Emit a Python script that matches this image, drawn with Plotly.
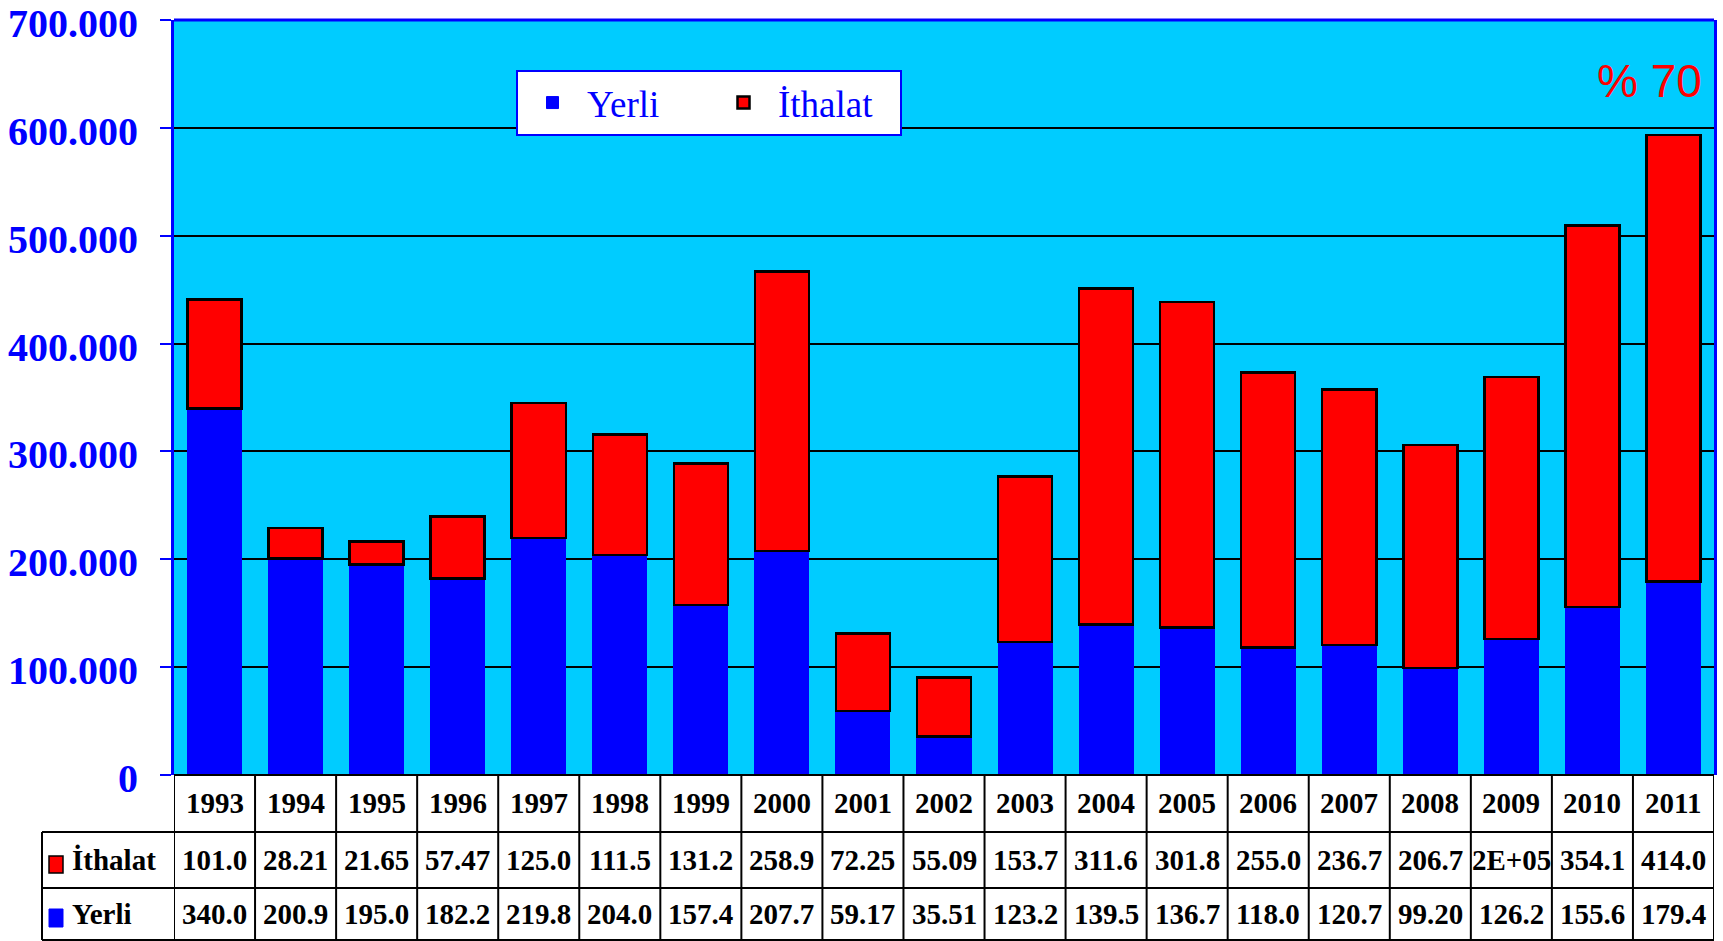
import plotly.graph_objects as go

years = ["1993", "1994", "1995", "1996", "1997", "1998", "1999", "2000", "2001", "2002",
         "2003", "2004", "2005", "2006", "2007", "2008", "2009", "2010", "2011"]
yerli = [340000, 200900, 195000, 182200, 219800, 204000, 157400, 207700, 59170, 35510,
         123200, 139500, 136700, 118000, 120700, 99200, 126200, 155600, 179400]
ithalat = [101000, 28210, 21650, 57470, 125000, 111500, 131200, 258900, 72250, 55090,
           153700, 311600, 301800, 255000, 236700, 206700, 243000, 354100, 414000]
yerli_labels = ["340.0", "200.9", "195.0", "182.2", "219.8", "204.0", "157.4", "207.7", "59.17", "35.51",
                "123.2", "139.5", "136.7", "118.0", "120.7", "99.20", "126.2", "155.6", "179.4"]
ithalat_labels = ["101.0", "28.21", "21.65", "57.47", "125.0", "111.5", "131.2", "258.9", "72.25", "55.09",
                  "153.7", "311.6", "301.8", "255.0", "236.7", "206.7", "2E+05", "354.1", "414.0"]
y_tickvals = [0, 100000, 200000, 300000, 400000, 500000, 600000, 700000]
y_ticktext = ["0", "100.000", "200.000", "300.000", "400.000", "500.000", "600.000", "700.000"]
note_text = "% 70"

SERIF = "Times New Roman, Liberation Serif, serif"
SANS = "Arial, Liberation Sans, sans-serif"

fig = go.Figure()
fig.add_trace(go.Bar(x=years, y=yerli, name="Yerli",
                     marker=dict(color="#0000FF", line=dict(color="#0000FF", width=1))))
fig.add_trace(go.Bar(x=years, y=ithalat, name="İthalat",
                     marker=dict(color="#FF0000", line=dict(color="#000000", width=2.5))))

W, H = 1723, 941
L, R, T, B = 174, 9, 20, 166
ph = H - T - B
pw = W - L - R
def py(px):
    return (H - B - px) / ph
def pxp(px):
    return (px - L) / pw

y_row1 = py(832)
y_row2 = py(888)
y_row3 = py(940)
x_lab = pxp(42)

shapes = []
line = dict(color="black", width=2)
shapes.append(dict(type="line", xref="paper", yref="paper", x0=0, x1=1, y0=0, y1=0, line=line))
for yy in (y_row1, y_row2, y_row3):
    shapes.append(dict(type="line", xref="paper", yref="paper", x0=x_lab, x1=1, y0=yy, y1=yy, line=line))
shapes.append(dict(type="line", xref="paper", yref="paper", x0=x_lab, x1=x_lab, y0=y_row1, y1=y_row3, line=line))
for i in range(len(years) + 1):
    shapes.append(dict(type="line", xref="x", yref="paper", x0=i - 0.5, x1=i - 0.5,
                       y0=0, y1=y_row3, line=line))
shapes.append(dict(type="line", xref="paper", yref="paper", x0=0, x1=1, y0=1, y1=1,
                   line=dict(color="#0000FF", width=3)))
shapes.append(dict(type="rect", xref="paper", yref="paper", x0=pxp(49), x1=pxp(63), y0=py(873), y1=py(856),
                   fillcolor="#FF0000", line=dict(color="black", width=1.5)))
shapes.append(dict(type="rect", xref="paper", yref="paper", x0=pxp(49), x1=pxp(63), y0=py(927), y1=py(909),
                   fillcolor="#0000FF", line=dict(color="#0000FF", width=1)))

annotations = []
tfont = dict(family=SERIF, size=29, color="black", weight="bold")
yc1 = py((775 + 832) / 2)
yc2 = py((832 + 888) / 2)
yc3 = py((888 + 940) / 2)
for i, yr in enumerate(years):
    annotations.append(dict(x=i, y=yc1, xref="x", yref="paper", text=yr, showarrow=False,
                            font=tfont, xanchor="center", yanchor="middle"))
    annotations.append(dict(x=i, y=yc2, xref="x", yref="paper", text=ithalat_labels[i], showarrow=False,
                            font=tfont, xanchor="center", yanchor="middle"))
    annotations.append(dict(x=i, y=yc3, xref="x", yref="paper", text=yerli_labels[i], showarrow=False,
                            font=tfont, xanchor="center", yanchor="middle"))
annotations.append(dict(x=pxp(70), y=yc2, xref="paper", yref="paper", text="İthalat", showarrow=False,
                        font=tfont, xanchor="left", yanchor="middle"))
annotations.append(dict(x=pxp(70), y=yc3, xref="paper", yref="paper", text="Yerli", showarrow=False,
                        font=tfont, xanchor="left", yanchor="middle"))
annotations.append(dict(x=pxp(1704), y=py(81), xref="paper", yref="paper", text=note_text, showarrow=False,
                        font=dict(family=SANS, size=46, color="#FF0000"), xanchor="right", yanchor="middle"))

fig.update_layout(
    width=W, height=H,
    margin=dict(l=L, r=R, t=T, b=B, autoexpand=False),
    barmode="stack", bargap=0.333,
    plot_bgcolor="#00CCFF", paper_bgcolor="white",
    showlegend=True,
    legend=dict(orientation="h", x=pxp(516), y=py(70), xanchor="left", yanchor="top",
                bgcolor="white", bordercolor="#0000FF", borderwidth=2,
                font=dict(family=SERIF, size=37, color="#0000FF"),
                itemwidth=59, entrywidth=117, traceorder="normal"),
    xaxis=dict(type="category", range=[-0.5, len(years) - 0.5], showticklabels=False,
               ticks="", showgrid=False, showline=False, zeroline=False, automargin=False),
    yaxis=dict(range=[0, 700000], tickvals=y_tickvals, ticktext=y_ticktext,
               tickfont=dict(family=SERIF, size=40, color="#0000FF", weight="bold"),
               ticks="outside", ticklen=11, tickwidth=2, tickcolor="#0000FF",
               ticklabelstandoff=14, ticklabelshift=3, ticklabeloverflow="allow", automargin=False,
               showgrid=True, gridcolor="black", gridwidth=2,
               showline=True, linecolor="#0000FF", linewidth=3, mirror=True,
               zeroline=False),
    shapes=shapes, annotations=annotations,
)

fig.write_html("out.html", config={"displayModeBar": False},
               post_script="document.body.style.margin='0';document.body.style.overflow='hidden';")
